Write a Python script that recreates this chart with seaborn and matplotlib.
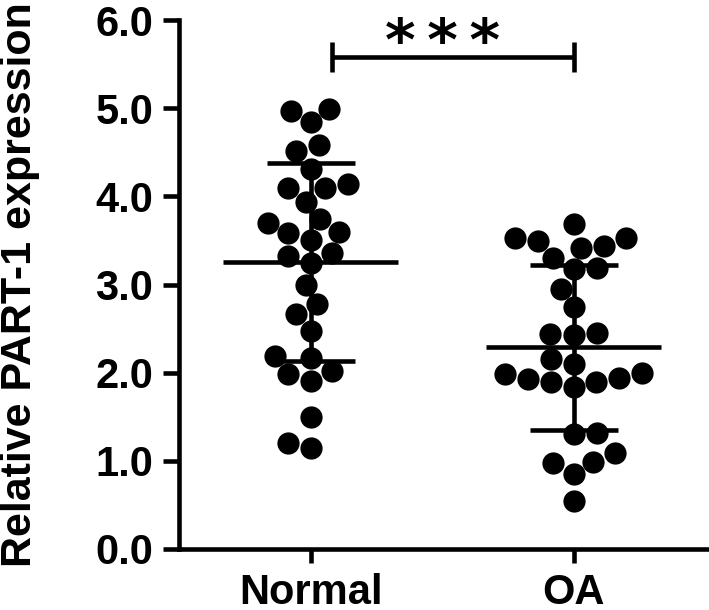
import numpy as np
import pandas as pd
import seaborn as sns
import matplotlib
matplotlib.use("Agg")
import matplotlib.pyplot as plt

categories = ["Normal", "OA"]
normal_values = [4.97, 4.99, 4.84, 4.58, 4.51, 4.31, 4.10, 4.09, 4.14, 3.94,
                 3.70, 3.74, 3.60, 3.58, 3.51, 3.36, 3.32, 3.25, 3.00, 2.78,
                 2.67, 2.47, 2.17, 2.19, 1.98, 1.91, 2.02, 1.50, 1.15, 1.20]
oa_values = [3.69, 3.53, 3.44, 3.42, 3.49, 3.53, 3.30, 3.19, 3.18, 2.95,
             2.74, 2.44, 2.43, 2.45, 2.16, 2.10, 2.00, 1.94, 1.90, 1.84,
             1.90, 1.93, 1.98, 1.30, 1.32, 0.99, 1.09, 0.97, 0.85, 0.55]
y_ticks = [0.0, 1.0, 2.0, 3.0, 4.0, 5.0, 6.0]
y_label = "Relative PART-1 expression"
sig_label = "*\u2009*\u2009*"

df = pd.DataFrame({
    "group": [categories[0]] * len(normal_values) + [categories[1]] * len(oa_values),
    "value": normal_values + oa_values,
})

sns.set_theme(style="ticks")
plt.rcParams["font.family"] = ["Liberation Sans", "DejaVu Sans"]
plt.rcParams["font.weight"] = "bold"
plt.rcParams["text.color"] = "black"
plt.rcParams["axes.labelcolor"] = "black"
plt.rcParams["xtick.color"] = "black"
plt.rcParams["ytick.color"] = "black"
plt.rcParams["axes.edgecolor"] = "black"

fig = plt.figure(figsize=(7.09, 6.10), dpi=100)
ax = fig.add_axes([0.2525, 0.100, 0.746, 0.867])

sns.swarmplot(data=df, x="group", y="value", order=categories, color="black",
              size=16, ax=ax, zorder=3)

lw = 3.3
for i, cat in enumerate(categories):
    vals = np.array(df.loc[df.group == cat, "value"])
    m = vals.mean()
    s = vals.std(ddof=1)
    ax.hlines(m, i - 0.333, i + 0.333, color="black", lw=lw, zorder=4)
    ax.vlines(i, m - s, m + s, color="black", lw=lw, zorder=4)
    ax.hlines([m - s, m + s], i - 0.167, i + 0.167, color="black", lw=lw, zorder=4)

# significance bracket
ybar = 5.58
ax.hlines(ybar, 0.08, 1.0, color="black", lw=lw)
ax.vlines([0.08, 1.0], ybar - 0.17, ybar + 0.17, color="black", lw=lw)
ax.text(0.5, 5.74, sig_label, ha="center", va="center", fontsize=42,
        fontweight="bold", family="DejaVu Sans", color="black")

ax.set_xlim(-0.5, 1.51)
ax.set_ylim(0, 6)
ax.set_yticks(y_ticks)
ax.set_yticklabels([f"{t:.1f}" for t in y_ticks])
ax.set_xlabel("")
ax.set_ylabel(y_label, fontsize=31, fontweight="bold", color="black")
ax.yaxis.set_label_coords(-0.262, 0.5)

for sp in ["top", "right"]:
    ax.spines[sp].set_visible(False)
ax.spines["left"].set_linewidth(lw)
ax.spines["bottom"].set_linewidth(lw)
ax.tick_params(axis="y", length=11.5, width=lw, labelsize=30, pad=7)
ax.tick_params(axis="x", length=10, width=lw, labelsize=30, pad=7)
for lab in ax.get_xticklabels() + ax.get_yticklabels():
    lab.set_fontweight("bold")

fig.savefig("out.png", dpi=100)
